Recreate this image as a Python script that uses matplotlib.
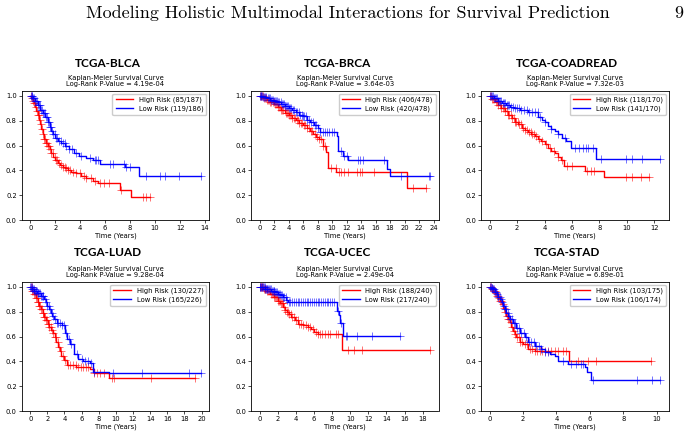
import numpy as np
import matplotlib
matplotlib.use("Agg")
import matplotlib.pyplot as plt

# ---- data (step times, survival values, censor times) ----
HEADER = "Modeling Holistic Multimodal Interactions for Survival Prediction"
PAGE_NO = "9"

BLCA_HIGH_T = [0, 0.1, 0.2, 0.3, 0.4, 0.5, 0.6, 0.7, 0.8, 0.9, 1.0, 1.1, 1.25, 1.4, 1.55, 1.7, 1.85,
               2.0, 2.2, 2.4, 2.6, 2.8, 3.0, 3.3, 3.7, 4.1, 4.5, 5.0, 5.4, 7.2, 8.05]
BLCA_HIGH_S = [1.0, 0.98, 0.96, 0.94, 0.91, 0.88, 0.85, 0.81, 0.77, 0.73, 0.69, 0.65, 0.62, 0.60, 0.57,
               0.54, 0.51, 0.48, 0.46, 0.44, 0.43, 0.42, 0.40, 0.39, 0.375, 0.355, 0.34, 0.315, 0.295, 0.245, 0.187]
BLCA_HIGH_C = [0.08, 0.15, 0.22, 0.3, 0.36, 0.45, 0.52, 0.6, 0.68, 0.75, 0.85, 0.95, 1.05, 1.12, 1.2,
               1.28, 1.35, 1.42, 1.5, 1.6, 1.7, 1.8, 1.95, 2.05, 2.15, 2.3, 2.45, 2.6, 2.75, 2.9, 3.05,
               3.2, 3.45, 3.7, 4.0, 4.3, 4.5, 4.9, 5.2, 5.6, 5.9, 6.3, 7.3, 9.0, 9.3, 9.6]
BLCA_LOW_T = [0, 0.2, 0.4, 0.6, 0.8, 1.0, 1.2, 1.4, 1.55, 1.7, 1.85, 2.0, 2.2, 2.5, 2.8, 3.1, 3.5,
              3.9, 4.5, 5.0, 5.6, 7.6, 8.7]
BLCA_LOW_S = [1.0, 0.98, 0.96, 0.93, 0.89, 0.86, 0.83, 0.79, 0.75, 0.72, 0.69, 0.66, 0.64, 0.62, 0.60,
              0.57, 0.54, 0.52, 0.50, 0.48, 0.455, 0.425, 0.353]
BLCA_LOW_C = [0.05, 0.12, 0.18, 0.25, 0.32, 0.4, 0.48, 0.55, 0.62, 0.7, 0.78, 0.88, 0.95, 1.02, 1.1,
              1.18, 1.25, 1.32, 1.4, 1.48, 1.58, 1.65, 1.75, 1.85, 1.95, 2.05, 2.15, 2.3, 2.45, 2.6,
              2.75, 2.9, 3.1, 3.35, 3.7, 4.1, 4.8, 5.2, 5.3, 5.45, 6.4, 6.65, 7.5, 7.7, 8.0, 9.3,
              10.4, 10.8, 11.9, 13.65]

BRCA_HIGH_T = [0, 0.5, 1.0, 1.5, 2.0, 2.5, 3.0, 3.5, 4.0, 4.5, 5.0, 5.5, 6.0, 6.5, 7.0, 7.4, 7.8,
               8.2, 8.75, 9.2, 9.5, 10.6, 20.4]
BRCA_HIGH_S = [1.0, 0.985, 0.97, 0.955, 0.935, 0.91, 0.885, 0.865, 0.845, 0.825, 0.805, 0.785, 0.765,
               0.74, 0.715, 0.69, 0.67, 0.655, 0.60, 0.55, 0.42, 0.385, 0.26]
BRCA_HIGH_C = [0.1, 0.2, 0.3, 0.45, 0.6, 0.75, 0.9, 1.05, 1.2, 1.35, 1.5, 1.65, 1.8, 1.95, 2.1, 2.25,
               2.4, 2.55, 2.7, 2.85, 3.0, 3.15, 3.3, 3.45, 3.6, 3.75, 3.9, 4.05, 4.2, 4.35, 4.5, 4.7,
               4.9, 5.1, 5.3, 5.5, 5.7, 5.9, 6.1, 6.3, 6.55, 6.8, 7.05, 7.3, 7.6, 7.9, 8.2, 8.5, 8.8,
               9.0, 9.9, 10.5, 10.9, 11.3, 11.7, 12.2, 13.5, 13.8, 14.1, 15.8, 21.2, 22.9]
BRCA_LOW_T = [0, 0.5, 1.0, 1.5, 2.0, 2.5, 3.0, 3.5, 4.0, 4.5, 5.0, 5.5, 6.0, 6.5, 7.0, 7.5, 8.0,
              8.3, 10.7, 10.85, 11.5, 12.2, 17.6, 18.0]
BRCA_LOW_S = [1.0, 0.99, 0.98, 0.97, 0.96, 0.95, 0.935, 0.92, 0.905, 0.89, 0.87, 0.85, 0.835, 0.81,
              0.79, 0.765, 0.74, 0.71, 0.68, 0.56, 0.52, 0.485, 0.415, 0.353]
BRCA_LOW_C = [0.05, 0.15, 0.25, 0.35, 0.5, 0.65, 0.8, 0.95, 1.1, 1.25, 1.4, 1.55, 1.7, 1.85, 2.0,
              2.15, 2.3, 2.45, 2.6, 2.75, 2.9, 3.05, 3.2, 3.35, 3.5, 3.65, 3.8, 3.95, 4.1, 4.25, 4.4,
              4.6, 4.8, 5.0, 5.2, 5.4, 5.6, 5.8, 6.0, 6.2, 6.4, 6.6, 6.85, 7.1, 7.35, 7.6, 7.85, 8.1,
              8.4, 8.7, 9.0, 9.3, 9.6, 10.0, 10.3, 11.3, 11.6, 12.0, 13.6, 13.9, 14.2, 17.2, 19.5,
              23.3, 23.5]

COAD_HIGH_T = [0, 0.2, 0.4, 0.6, 0.85, 1.1, 1.35, 1.6, 1.85, 2.1, 2.35, 2.6, 2.8, 3.05, 3.3, 3.55,
               3.75, 4.0, 4.25, 4.5, 4.75, 5.0, 5.2, 5.45, 6.97, 8.36]
COAD_HIGH_S = [1.0, 0.975, 0.95, 0.925, 0.90, 0.875, 0.85, 0.82, 0.79, 0.77, 0.745, 0.725, 0.71,
               0.69, 0.675, 0.655, 0.635, 0.61, 0.58, 0.56, 0.54, 0.51, 0.487, 0.436, 0.397, 0.349]
COAD_HIGH_C = [0.05, 0.12, 0.2, 0.28, 0.36, 0.45, 0.55, 0.65, 0.75, 0.85, 0.95, 1.05, 1.15, 1.25,
               1.35, 1.45, 1.55, 1.65, 1.75, 1.85, 1.95, 2.05, 2.15, 2.3, 2.45, 2.6, 2.75, 2.9, 3.0,
               3.1, 3.25, 3.4, 3.6, 3.8, 4.1, 4.4, 4.7, 5.0, 5.3, 5.6, 6.0, 7.1, 7.4, 7.6, 9.9, 10.4,
               11.0, 11.6]
COAD_LOW_T = [0, 0.3, 0.6, 0.9, 1.2, 1.5, 1.8, 2.2, 2.8, 3.55, 3.8, 4.0, 4.25, 4.5, 4.75, 5.0,
              5.25, 5.55, 5.9, 7.76]
COAD_LOW_S = [1.0, 0.98, 0.96, 0.94, 0.925, 0.91, 0.90, 0.89, 0.873, 0.833, 0.81, 0.794, 0.754,
              0.735, 0.714, 0.69, 0.661, 0.635, 0.582, 0.489]
COAD_LOW_C = [0.05, 0.1, 0.18, 0.25, 0.32, 0.4, 0.48, 0.55, 0.62, 0.7, 0.78, 0.86, 0.95, 1.05, 1.15,
              1.25, 1.35, 1.45, 1.55, 1.7, 1.85, 2.0, 2.15, 2.3, 2.5, 2.7, 2.9, 3.1, 3.3, 3.5, 3.7,
              4.0, 4.5, 5.0, 5.5, 6.2, 6.5, 6.8, 7.0, 7.2, 7.5, 8.1, 9.9, 10.4, 11.1, 12.4]

LUAD_HIGH_T = [0, 0.25, 0.45, 0.65, 0.85, 1.05, 1.25, 1.45, 1.65, 1.85, 2.05, 2.25, 2.45, 2.65,
               2.85, 3.05, 3.25, 3.45, 3.65, 3.9, 4.3, 5.4, 7.0, 7.4, 9.2]
LUAD_HIGH_S = [1.0, 0.97, 0.94, 0.91, 0.88, 0.85, 0.82, 0.79, 0.76, 0.73, 0.70, 0.675, 0.65, 0.625,
               0.60, 0.56, 0.52, 0.48, 0.44, 0.41, 0.37, 0.353, 0.34, 0.31, 0.265]
LUAD_HIGH_C = [0.05, 0.15, 0.25, 0.35, 0.45, 0.55, 0.65, 0.75, 0.85, 0.95, 1.05, 1.15, 1.25, 1.35,
               1.45, 1.55, 1.65, 1.75, 1.85, 1.95, 2.05, 2.15, 2.25, 2.4, 2.55, 2.7, 2.85, 3.0, 3.2,
               3.4, 3.6, 3.85, 4.1, 4.4, 4.7, 5.0, 5.3, 5.6, 5.9, 6.2, 6.5, 6.8, 7.5, 7.8, 8.2, 8.6,
               9.5, 9.8, 14.1, 19.2]
LUAD_LOW_T = [0, 0.25, 0.45, 0.8, 1.2, 1.6, 1.8, 2.0, 2.2, 2.4, 2.6, 2.8, 3.1, 3.7, 4.1, 4.3, 4.7,
              5.06, 5.6, 6.2, 7.0, 7.3, 9.2]
LUAD_LOW_S = [1.0, 0.987, 0.97, 0.95, 0.93, 0.90, 0.88, 0.85, 0.82, 0.79, 0.765, 0.74, 0.71, 0.69,
              0.63, 0.58, 0.54, 0.46, 0.42, 0.406, 0.39, 0.318, 0.307]
LUAD_LOW_C = [0.03, 0.1, 0.18, 0.25, 0.33, 0.4, 0.48, 0.55, 0.62, 0.7, 0.78, 0.86, 0.95, 1.05, 1.15,
              1.25, 1.35, 1.45, 1.55, 1.7, 1.85, 2.0, 2.15, 2.3, 2.5, 2.7, 2.9, 3.1, 3.3, 3.5, 3.7,
              3.9, 4.2, 4.5, 4.8, 5.5, 6.0, 6.4, 6.8, 7.1, 7.5, 9.7, 13.0, 18.5, 19.9]

UCEC_HIGH_T = [0, 0.4, 0.8, 1.2, 1.6, 2.0, 2.3, 2.6, 2.8, 3.0, 3.2, 3.5, 3.9, 4.23, 4.8, 5.32,
               5.7, 6.05, 6.4, 9.07]
UCEC_HIGH_S = [1.0, 0.98, 0.965, 0.945, 0.92, 0.89, 0.87, 0.836, 0.815, 0.797, 0.78, 0.757, 0.73,
               0.705, 0.69, 0.678, 0.66, 0.639, 0.617, 0.493]
UCEC_HIGH_C = [0.05, 0.12, 0.2, 0.28, 0.36, 0.45, 0.55, 0.65, 0.75, 0.85, 0.95, 1.05, 1.15, 1.25,
               1.35, 1.45, 1.55, 1.65, 1.75, 1.85, 1.95, 2.05, 2.15, 2.25, 2.35, 2.45, 2.55, 2.7,
               2.85, 3.0, 3.15, 3.3, 3.45, 3.6, 3.8, 4.0, 4.2, 4.4, 4.6, 4.85, 5.1, 5.35, 5.6, 5.9,
               6.2, 6.5, 6.7, 6.9, 7.2, 7.5, 7.8, 8.4, 8.7, 9.8, 10.4, 11.3, 18.8]
UCEC_LOW_T = [0, 0.58, 1.31, 1.7, 2.04, 2.3, 2.59, 2.95, 3.13, 8.53, 8.78, 8.9, 9.2]
UCEC_LOW_S = [1.0, 0.98, 0.97, 0.96, 0.947, 0.935, 0.92, 0.894, 0.88, 0.81, 0.77, 0.71, 0.607]
UCEC_LOW_C = [0.03, 0.1, 0.18, 0.25, 0.32, 0.4, 0.48, 0.55, 0.62, 0.7, 0.78, 0.86, 0.95, 1.05, 1.15,
              1.25, 1.35, 1.45, 1.55, 1.65, 1.75, 1.85, 1.95, 2.05, 2.15, 2.25, 2.35, 2.45, 2.6,
              2.75, 2.9, 3.05, 3.2, 3.4, 3.6, 3.8, 4.0, 4.2, 4.4, 4.6, 4.8, 5.0, 5.2, 5.4, 5.6, 5.8,
              6.0, 6.2, 6.4, 6.6, 6.8, 7.0, 7.2, 7.4, 7.6, 7.8, 8.0, 8.2, 8.7, 9.0, 9.5, 9.7, 10.8,
              12.4, 15.5]

STAD_HIGH_T = [0, 0.1, 0.22, 0.32, 0.42, 0.52, 0.62, 0.72, 0.81, 0.9, 1.01, 1.1, 1.21, 1.3, 1.41,
               1.5, 1.61, 1.8, 2.0, 2.3, 2.7, 3.3, 4.78]
STAD_HIGH_S = [1.0, 0.985, 0.968, 0.95, 0.928, 0.91, 0.888, 0.86, 0.834, 0.80, 0.767, 0.74, 0.714,
               0.68, 0.647, 0.62, 0.594, 0.559, 0.54, 0.50, 0.487, 0.48, 0.401]
STAD_HIGH_C = [0.03, 0.08, 0.13, 0.18, 0.24, 0.3, 0.36, 0.42, 0.48, 0.55, 0.62, 0.7, 0.78, 0.86,
               0.94, 1.02, 1.1, 1.18, 1.26, 1.35, 1.45, 1.55, 1.65, 1.75, 1.85, 1.95, 2.1, 2.25,
               2.4, 2.55, 2.7, 2.85, 3.0, 3.15, 3.3, 3.5, 3.7, 3.9, 4.1, 4.4, 4.6, 5.3, 5.9, 6.4,
               9.65]
STAD_LOW_T = [0, 0.1, 0.22, 0.32, 0.42, 0.52, 0.62, 0.72, 0.81, 0.9, 1.01, 1.1, 1.21, 1.41, 1.61,
              1.8, 2.1, 2.3, 2.7, 3.1, 3.3, 3.6, 3.9, 4.1, 4.7, 5.7, 5.85, 6.05]
STAD_LOW_S = [1.0, 0.99, 0.98, 0.96, 0.94, 0.92, 0.90, 0.875, 0.85, 0.82, 0.79, 0.765, 0.74, 0.71,
              0.67, 0.63, 0.594, 0.553, 0.527, 0.50, 0.473, 0.46, 0.446, 0.406, 0.38, 0.353, 0.313,
              0.246]
STAD_LOW_C = [0.03, 0.07, 0.12, 0.17, 0.22, 0.28, 0.34, 0.4, 0.46, 0.53, 0.6, 0.68, 0.76, 0.84, 0.92,
              1.0, 1.08, 1.16, 1.25, 1.35, 1.45, 1.55, 1.65, 1.75, 1.9, 2.05, 2.2, 2.35, 2.5, 2.65,
              2.8, 2.95, 3.1, 3.3, 3.5, 4.4, 4.9, 5.2, 5.5, 5.6, 6.2, 8.8, 9.7, 10.2]

PANELS = [
    ("TCGA-BLCA", "4.19e-04", "High Risk (85/187)", "Low Risk (119/186)",
     (BLCA_HIGH_T, BLCA_HIGH_S, BLCA_HIGH_C), (BLCA_LOW_T, BLCA_LOW_S, BLCA_LOW_C), 14),
    ("TCGA-BRCA", "3.64e-03", "High Risk (406/478)", "Low Risk (420/478)",
     (BRCA_HIGH_T, BRCA_HIGH_S, BRCA_HIGH_C), (BRCA_LOW_T, BRCA_LOW_S, BRCA_LOW_C), 24),
    ("TCGA-COADREAD", "7.32e-03", "High Risk (118/170)", "Low Risk (141/170)",
     (COAD_HIGH_T, COAD_HIGH_S, COAD_HIGH_C), (COAD_LOW_T, COAD_LOW_S, COAD_LOW_C), 12),
    ("TCGA-LUAD", "9.28e-04", "High Risk (130/227)", "Low Risk (165/226)",
     (LUAD_HIGH_T, LUAD_HIGH_S, LUAD_HIGH_C), (LUAD_LOW_T, LUAD_LOW_S, LUAD_LOW_C), 20),
    ("TCGA-UCEC", "2.49e-04", "High Risk (188/240)", "Low Risk (217/240)",
     (UCEC_HIGH_T, UCEC_HIGH_S, UCEC_HIGH_C), (UCEC_LOW_T, UCEC_LOW_S, UCEC_LOW_C), 18),
    ("TCGA-STAD", "6.89e-01", "High Risk (103/175)", "Low Risk (106/174)",
     (STAD_HIGH_T, STAD_HIGH_S, STAD_HIGH_C), (STAD_LOW_T, STAD_LOW_S, STAD_LOW_C), 10),
]

W, H = 689, 437
FS = 4.9


def km_curve(ax, t, s, cens, color, label):
    t = np.asarray(t, float)
    s = np.asarray(s, float)
    cens = np.asarray(cens, float)
    t_end = max(t[-1], cens.max())
    tt = np.append(t, t_end)
    ss = np.append(s, s[-1])
    line, = ax.step(tt, ss, where="post", color=color, lw=1.0, label=label)
    idx = np.searchsorted(t, cens, side="right") - 1
    ax.plot(cens, s[idx], ls="none", marker="+", ms=5.5, mew=0.7, color=color, alpha=0.55)
    return line


fig = plt.figure(figsize=(W / 100, H / 100), dpi=100)
fig.text(86 / W, 1 - 13.5 / H, HEADER, family="cmr10", fontsize=13, va="center", ha="left")
fig.text(683 / W, 1 - 13.5 / H, PAGE_NO, family="cmr10", fontsize=13, va="center", ha="right")

lefts = [21.7, 251, 481]
tops = [91, 282]
title_y = [63.3, 252.3]
aw, ah = 187.5, 129

for i, (name, pval, lab_hi, lab_lo, hi, lo, xmax) in enumerate(PANELS):
    r, c = divmod(i, 3)
    x0, y0 = lefts[c], tops[r]
    ax = fig.add_axes([x0 / W, 1 - (y0 + ah) / H, aw / W, ah / H])
    km_curve(ax, *hi, color="red", label=lab_hi)
    km_curve(ax, *lo, color="blue", label=lab_lo)
    ax.set_ylim(0, 1.04)
    ax.set_xticks(np.arange(0, xmax + 1, 2))
    ax.set_yticks(np.arange(0, 1.01, 0.2))
    ax.tick_params(labelsize=FS, length=2, width=0.5, pad=1.5)
    for sp in ax.spines.values():
        sp.set_linewidth(0.6)
    ax.set_xlabel("Time (Years)", fontsize=FS, labelpad=1.5)
    ax.set_title("Kaplan-Meier Survival Curve\nLog-Rank P-Value = " + pval,
                 fontsize=FS, pad=3.5, linespacing=1.05)
    ax.legend(loc="upper right", fontsize=FS, handlelength=2.6, borderpad=0.45,
              labelspacing=0.35, framealpha=1, fancybox=True, borderaxespad=0.4)
    fig.text((x0 + aw / 2 - 7.5) / W, 1 - title_y[r] / H, name, family="Lato",
             fontweight="bold", fontsize=8.5, ha="center", va="center")

fig.savefig("out.png", dpi=100)
